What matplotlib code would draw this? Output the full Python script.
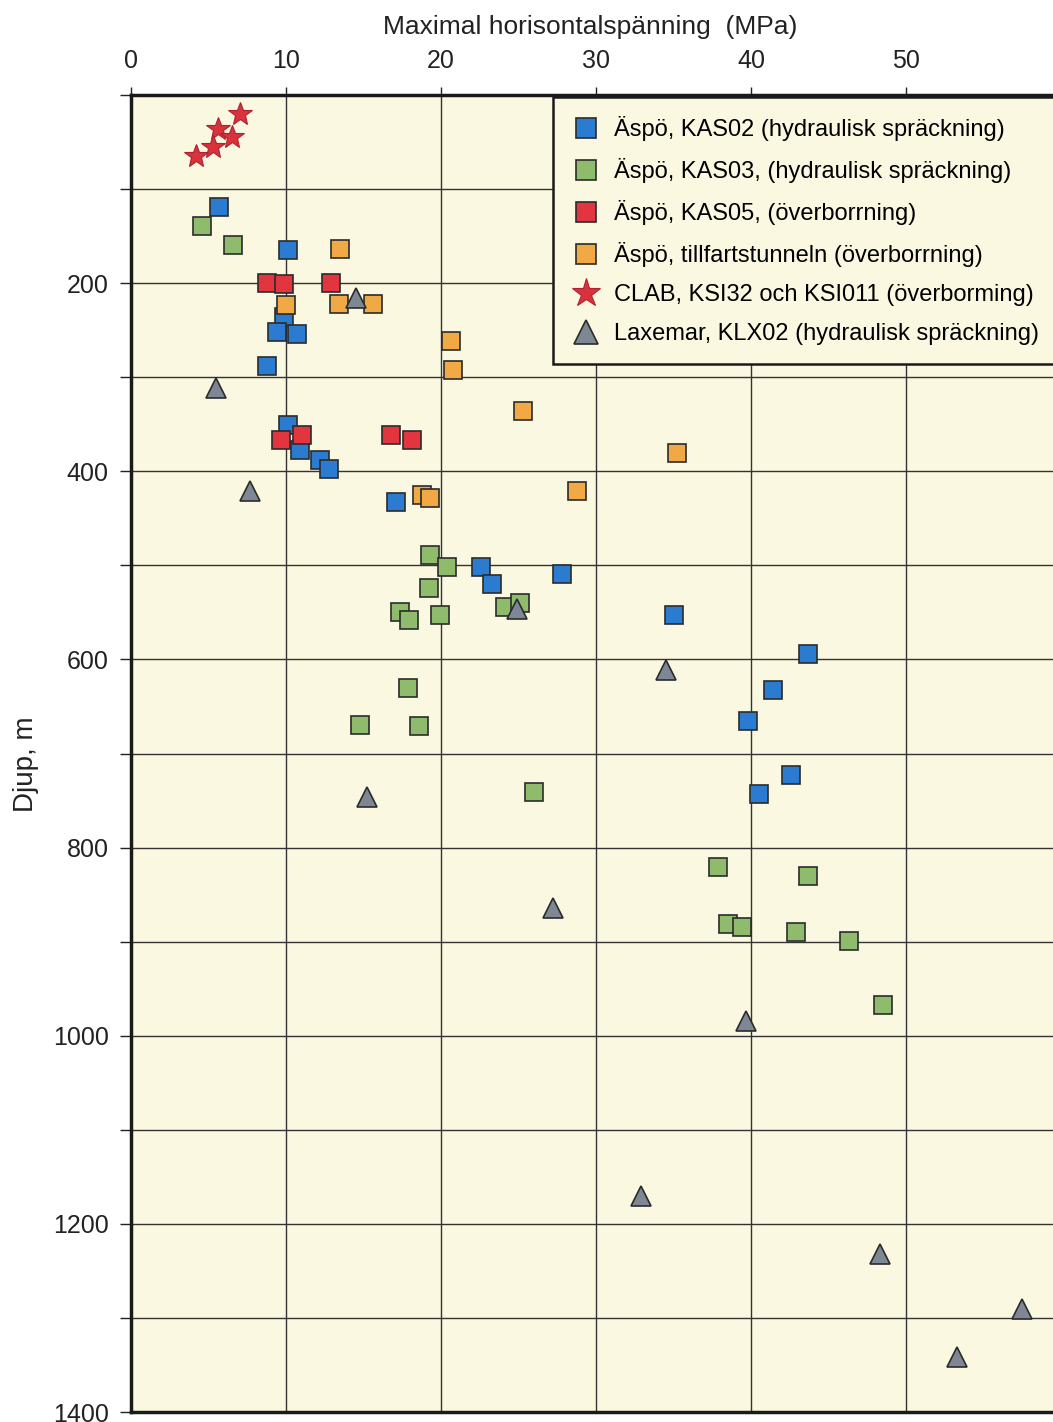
import matplotlib
matplotlib.use('Agg')
import matplotlib.pyplot as plt
from matplotlib.lines import Line2D

plt.rcParams['font.family'] = ['Liberation Sans', 'DejaVu Sans']

# ---- data (stress MPa, depth m) ----
kas02_x = [5.7, 10.1, 9.9, 9.4, 10.7, 8.75, 10.1, 10.9, 12.2, 12.75, 17.1, 22.6, 23.3, 27.8, 35.0, 43.7, 41.4, 39.8, 42.6, 40.5]
kas02_d = [119, 165, 236, 252, 254, 288, 351, 377, 388, 398, 433, 502, 520, 509, 553, 594, 632, 665, 723, 743]

kas03_x = [4.6, 6.6, 19.3, 20.4, 19.25, 17.35, 17.95, 19.95, 24.1, 25.1, 17.9, 14.8, 18.6, 26.0, 37.9, 43.7, 38.5, 39.4, 42.9, 46.3, 48.5]
kas03_d = [139, 159, 489, 502, 524, 550, 558, 553, 544, 540, 630, 670, 671, 741, 821, 830, 881, 884, 890, 899, 967]

kas05_x = [8.75, 9.9, 12.9, 9.7, 11.0, 16.8, 18.1]
kas05_d = [200, 201, 200, 367, 361, 361, 367]

tunnel_x = [13.5, 10.0, 13.4, 15.6, 20.65, 20.8, 25.3, 35.2, 18.8, 19.3, 28.8]
tunnel_d = [164, 223, 222, 222, 261, 292, 336, 381, 425, 428, 421]

clab_x = [7.0, 5.6, 6.5, 5.3, 4.2]
clab_d = [20, 36, 45, 55, 65]

klx02_x = [14.5, 5.5, 7.65, 24.9, 34.5, 15.25, 27.2, 39.7, 32.9, 48.3, 57.5, 53.3]
klx02_d = [216, 311, 421, 546, 611, 746, 864, 984, 1170, 1232, 1291, 1342]

labels = [
    "Äspö, KAS02 (hydraulisk spräckning)",
    "Äspö, KAS03, (hydraulisk spräckning)",
    "Äspö, KAS05, (överborrning)",
    "Äspö, tillfartstunneln (överborrning)",
    "CLAB, KSI32 och KSI011 (överborming)",
    "Laxemar, KLX02 (hydraulisk spräckning)",
]

x_ticks = [0, 10, 20, 30, 40, 50, 60]
x_ticklabels = ["0", "10", "20", "30", "40", "50", ""]
y_ticks = list(range(0, 1401, 100))
y_ticklabels = [str(v) if (v % 200 == 0 and v > 0) else "" for v in y_ticks]

bg = '#faf8e0'
edge = '#2b2b2b'

fig = plt.figure(figsize=(10.53, 14.22), dpi=100)
W, H = 1053, 1422
ax = fig.add_axes([131 / W, (H - 1412) / H, (1061 - 131) / W, (1412 - 95) / H])
ax.set_facecolor(bg)
ax.set_xlim(0, 60)
ax.set_ylim(1400, 0)

ax.set_xticks(x_ticks)
ax.set_xticklabels(x_ticklabels)
ax.set_yticks(y_ticks)
ax.set_yticklabels(y_ticklabels)
ax.xaxis.tick_top()
ax.tick_params(axis='x', direction='out', length=6, width=1.0, pad=10, labelsize=18, colors='#222222')
ax.tick_params(axis='y', direction='out', length=8, width=1.0, pad=8, labelsize=18, colors='#222222')
ax.grid(True, color='#333333', linewidth=1.0, zorder=0)
ax.set_axisbelow(True)
for s in ['left', 'top', 'bottom']:
    ax.spines[s].set_linewidth(2.5)
    ax.spines[s].set_color('#1a1a1a')
ax.spines['right'].set_visible(False)

ms = 13
ax.plot(kas02_x, kas02_d, 's', ms=ms, mfc='#2b7bd0', mec=edge, mew=1.2, zorder=3)
ax.plot(kas03_x, kas03_d, 's', ms=ms, mfc='#8fbb6c', mec=edge, mew=1.2, zorder=3)
ax.plot(kas05_x, kas05_d, 's', ms=ms, mfc='#e2353f', mec=edge, mew=1.2, zorder=3)
ax.plot(tunnel_x, tunnel_d, 's', ms=ms, mfc='#f0a944', mec=edge, mew=1.2, zorder=3)
ax.plot(clab_x, clab_d, '*', ms=18, mfc='#d8333d', mec='#b02030', mew=0.8, zorder=4)
ax.plot(klx02_x, klx02_d, '^', ms=14, mfc='#7d8894', mec=edge, mew=1.2, zorder=4)

handles = [
    Line2D([], [], ls='', marker='s', ms=14, mfc='#2b7bd0', mec=edge, mew=1.2),
    Line2D([], [], ls='', marker='s', ms=14, mfc='#8fbb6c', mec=edge, mew=1.2),
    Line2D([], [], ls='', marker='s', ms=14, mfc='#e2353f', mec=edge, mew=1.2),
    Line2D([], [], ls='', marker='s', ms=14, mfc='#f0a944', mec=edge, mew=1.2),
    Line2D([], [], ls='', marker='*', ms=21, mfc='#d8333d', mec='#b02030', mew=0.8),
    Line2D([], [], ls='', marker='^', ms=17, mfc='#7d8894', mec=edge, mew=1.2),
]
leg = ax.legend(handles, labels, loc='upper left',
                bbox_to_anchor=(553 / W, 1 - 97 / H), bbox_transform=fig.transFigure,
                fontsize=17, frameon=True, fancybox=False, facecolor=bg, edgecolor='#1a1a1a',
                framealpha=1, borderpad=0.8, labelspacing=0.72, handletextpad=0.6,
                handlelength=1.2, borderaxespad=0)
leg.get_frame().set_linewidth(1.8)
leg.set_zorder(5)

fig.text(590 / W, 1 - 27 / H, "Maximal horisontalspänning  (MPa)", ha='center', va='center', fontsize=19,
         color='#222222')
fig.text(26 / W, 1 - 764 / H, "Djup, m", ha='center', va='center', rotation=90, fontsize=20,
         color='#222222')

fig.savefig('out.png', dpi=100, facecolor='white')
